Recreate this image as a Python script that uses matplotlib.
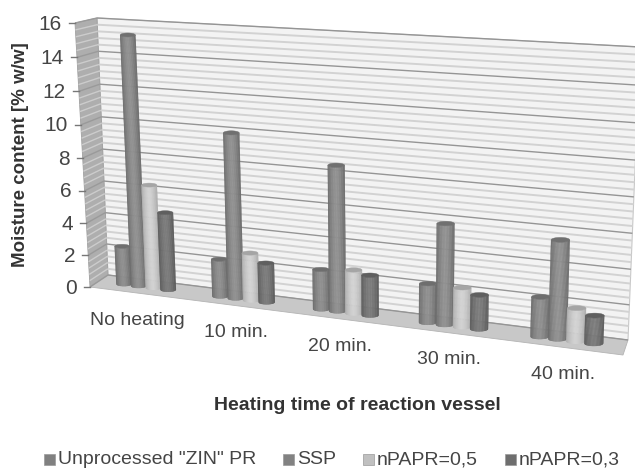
import matplotlib
matplotlib.use('Agg')
import matplotlib.pyplot as plt
import numpy as np

categories = ['No heating', '10 min.', '20 min.', '30 min.', '40 min.']
series = ['Unprocessed "ZIN" PR', 'SSP', 'nPAPR=0,5', 'nPAPR=0,3']
unprocessed = [2.4, 2.3, 2.4, 2.3, 2.3]
ssp = [15.3, 10.0, 8.65, 5.9, 5.65]
npapr05 = [6.4, 2.9, 2.6, 2.3, 1.9]
npapr03 = [4.8, 2.4, 2.4, 2.0, 1.6]
values = [unprocessed, ssp, npapr05, npapr03]
colors = ['#808080', '#828282', '#c0c0c0', '#6e6e6e']
y_ticks = [0, 2, 4, 6, 8, 10, 12, 14, 16]
y_max = 16

# corners of the back wall and of the front plane, in image pixels
back = [(108, 275), (628, 340), (640, 47), (97, 18)]
front = [(90, 287), (623, 355), (635, 60), (75, 23)]


def homography(corners):
    src = [(0, 0), (1, 0), (1, 1), (0, 1)]
    a = []
    b = []
    for (u, v), (x, y) in zip(src, corners):
        a.append([u, v, 1, 0, 0, 0, -u * x, -v * x])
        a.append([0, 0, 0, u, v, 1, -u * y, -v * y])
        b += [x, y]
    h = np.linalg.solve(np.array(a, float), np.array(b, float))
    return np.append(h, 1).reshape(3, 3)


h_back = homography(back)
h_front = homography(front)


def project(cat, val, depth=0.0):
    # cat in category units (0..5), val in moisture units, depth 0 back, 1 front
    p = np.array([cat / len(categories), val / y_max, 1.0])
    q1 = h_back @ p
    q2 = h_front @ p
    return (1 - depth) * q1[:2] / q1[2] + depth * q2[:2] / q2[2]


def cylinder(ax, cat, val, color, half=0.08, depth=0.5):
    base = project(cat, 0, depth)
    top = project(cat, val, depth)
    w = project(cat + half, 0, depth)[0] - base[0]
    ry = w * 0.26
    rgb = np.array(matplotlib.colors.to_rgb(color))
    t = np.linspace(-1, 1, 25)
    for t0, t1 in zip(t[:-1], t[1:]):
        tm = (t0 + t1) / 2
        shade = 1.12 - 0.3 * abs(tm) ** 1.6
        if color == colors[2]:
            shade = 1.1 - 0.2 * abs(tm) ** 1.6
        c = np.clip(rgb * shade, 0, 1)
        # strip from the base ellipse up to the top ellipse
        tt = np.array([t0, t1])
        xb = base[0] + tt * w
        xt = top[0] + tt * w
        yb = base[1] + np.sqrt(1 - tt ** 2) * ry
        yt = top[1] + np.sqrt(1 - tt ** 2) * ry
        ax.fill([xb[0], xb[1], xt[1], xt[0]], [yb[0], yb[1], yt[1], yt[0]],
                color=c, lw=0.3, zorder=5 + cat * 0.001)
    a = np.linspace(0, 2 * np.pi, 50)
    ax.fill(top[0] + w * np.cos(a), top[1] + ry * np.sin(a),
            color=np.clip(rgb * 0.86, 0, 1), lw=0.3, zorder=5 + cat * 0.001)


fig = plt.figure(figsize=(6.35, 4.68), dpi=100)
plt.rcParams['font.family'] = ['Liberation Sans', 'DejaVu Sans']
ax = fig.add_axes([0, 0, 1, 1])
ax.set_xlim(0, 635)
ax.set_ylim(468, 0)
ax.axis('off')

n = len(categories)

# back wall, side wall and floor
wall = np.array([project(0, 0), project(n, 0), project(n, y_max), project(0, y_max)])
ax.fill(wall[:, 0], wall[:, 1], color='#f3f3f3', ec='#c8c8c8', lw=0.8, zorder=1)
side = np.array([project(0, 0), project(0, 0, 1), project(0, y_max, 1), project(0, y_max)])
ax.fill(side[:, 0], side[:, 1], color='#aeaeae', ec='#a0a0a0', lw=0.6, zorder=1)
floor = np.array([project(0, 0), project(n, 0), project(n, 0, 1), project(0, 0, 1)])
ax.fill(floor[:, 0], floor[:, 1], color='#c8c8c8', ec='#b4b4b4', lw=0.6, zorder=1)

for v in np.arange(0, y_max + 0.01, 0.4):
    major = abs(v / 2 - round(v / 2)) < 1e-6
    p0, p1 = project(0, v), project(n, v)
    ax.plot([p0[0], p1[0]], [p0[1], p1[1]], color='#959595' if major else '#d2d2d2',
            lw=1.0 if major else 1.4, zorder=2, solid_capstyle='butt')
    s0 = project(0, v, 1)
    ax.plot([s0[0], p0[0]], [s0[1], p0[1]], color='#9a9a9a' if major else '#cccccc',
            lw=1.0, zorder=2, solid_capstyle='butt')

# value axis ticks and labels
for v in y_ticks:
    p = project(0, v, 1)
    ax.plot([p[0] - 6, p[0]], [p[1], p[1]], color='#777777', lw=1.0, zorder=2)
    ax.text(p[0] - 13, p[1] + 1, str(v), ha='right', va='center', fontsize=15, color='#454545')

# cylinders, left to right
for i in range(n):
    for j, vals in enumerate(values):
        cylinder(ax, i + 0.5 + (j - 1.5) * 0.155, vals[i], colors[j])

# category labels
for i, name in enumerate(categories):
    p = project(i + 0.5, 0, 1)
    ax.text(p[0] - 1, p[1] + 27, name, ha='center', va='center', fontsize=14, color='#454545')

ax.text(357, 405, 'Heating time of reaction vessel', ha='center', va='center',
        fontsize=14, fontweight='bold', color='#333333')
ax.text(21, 155, 'Moisture content [% w/w]', rotation=90, ha='center', va='center',
        fontsize=13.5, fontweight='bold', color='#333333')

# legend
legend_x = [44, 283, 363, 505]
for x, name, c in zip(legend_x, series, colors):
    ax.fill([x, x + 11, x + 11, x], [454, 454, 465, 465], color=c, ec='#999999', lw=0.5)
    ax.text(x + 14, 460, name, ha='left', va='center', fontsize=14, color='#454545')

fig.savefig('out.png', dpi=100)
